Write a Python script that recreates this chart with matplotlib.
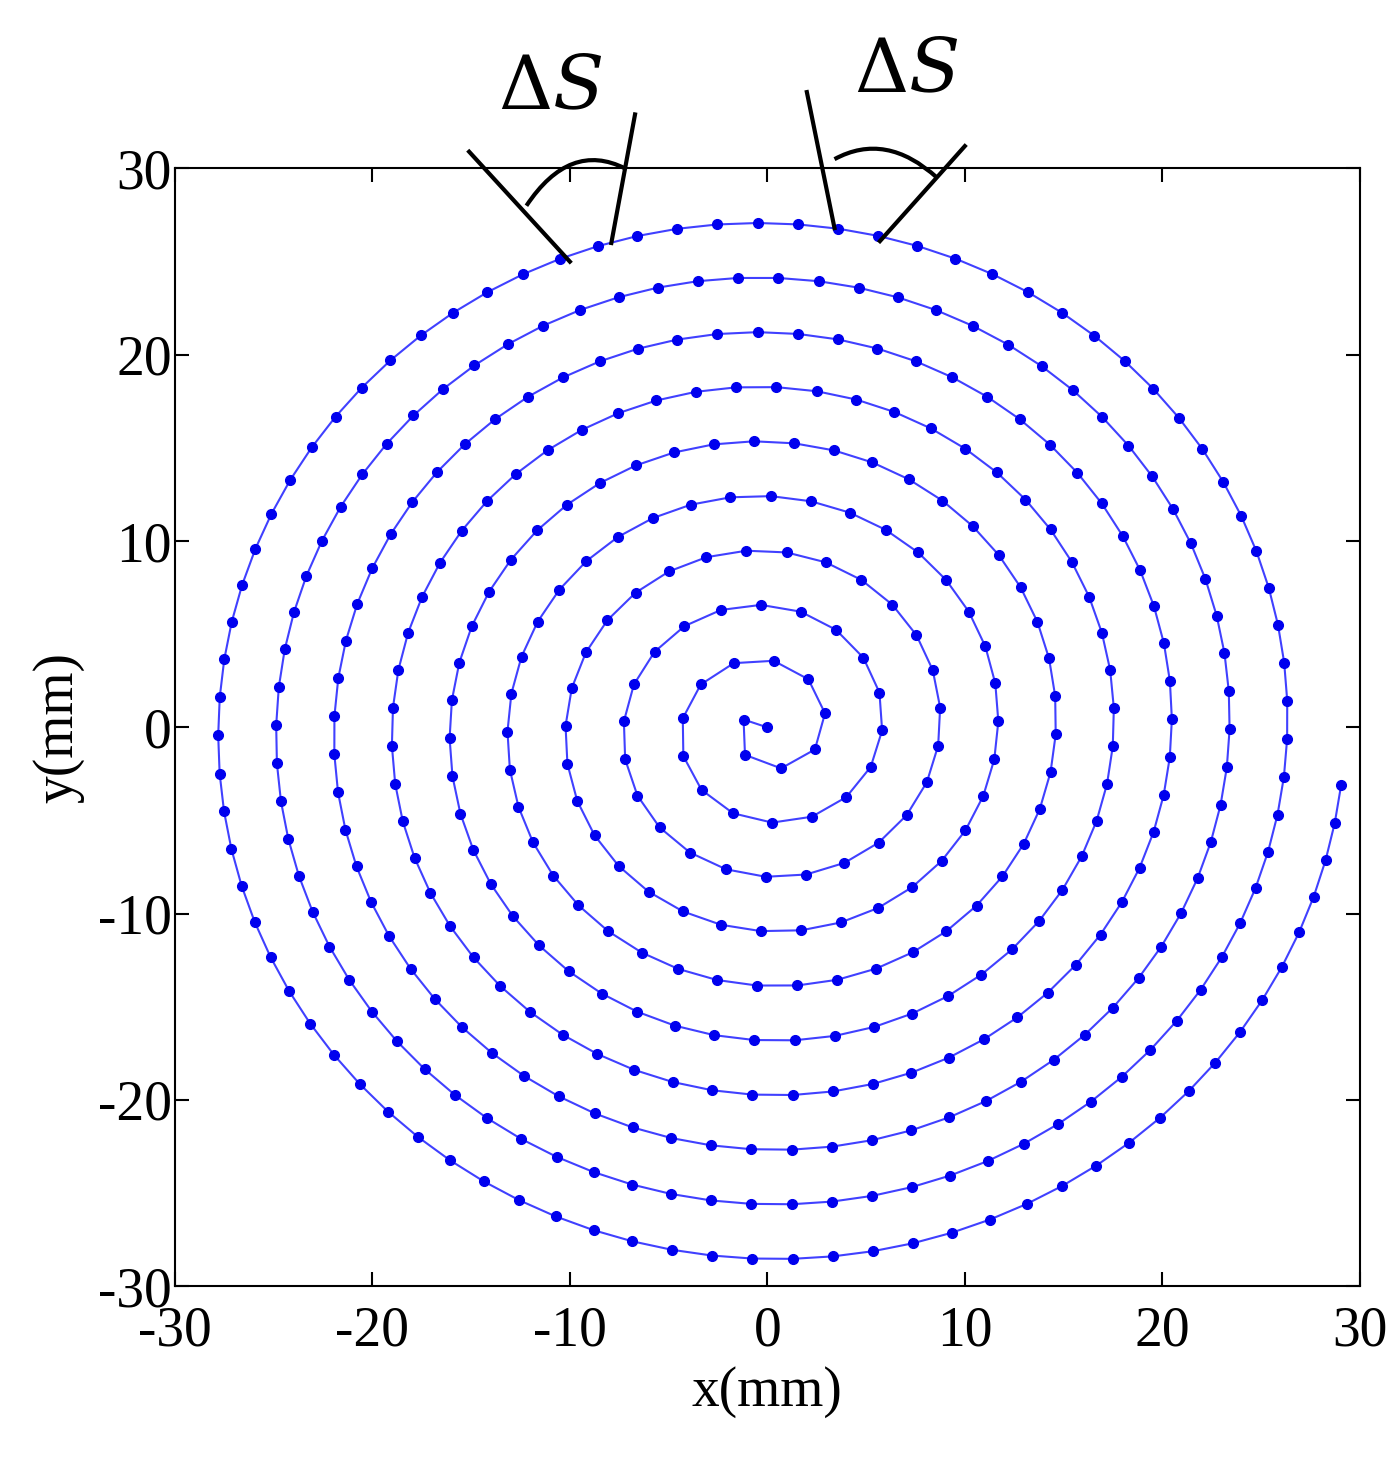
import numpy as np
import matplotlib.pyplot as plt
from matplotlib.path import Path
from matplotlib.patches import PathPatch

# spiral (mm)
ring_gap = 2.93        # distance between neighbouring turns
r_start = 0.7          # radius offset at the centre
n_turns = 9.74         # number of turns drawn
point_step = 2.05      # arc length between sampled points (Delta S)

# annotation lines (mm, drawn outside the axes)
left_lines = [[(-10.0, 25.0), (-15.1, 30.9)], [(-7.9, 26.0), (-6.7, 32.9)]]
left_arc = [(-12.2, 28.0), (-10.0, 31.5), (-7.2, 30.0)]
right_lines = [[(3.4, 26.8), (2.0, 34.1)], [(5.7, 26.1), (10.0, 31.2)]]
right_arc = [(3.4, 30.5), (6.0, 32.0), (8.6, 29.5)]
label_pos = [(-11.0, 32.3), (7.0, 33.2)]

# sample spiral at equal arc length
phi = np.linspace(0, n_turns * 2 * np.pi, 20000)
r = r_start + ring_gap * phi / (2 * np.pi)
r[0] = 0
ang = phi + np.pi / 2
x = r * np.cos(ang)
y = r * np.sin(ang)
s = np.concatenate([[0], np.cumsum(np.hypot(np.diff(x), np.diff(y)))])
si = np.arange(0, s[-1], point_step)
px = np.interp(si, s, x)
py = np.interp(si, s, y)

plt.rcParams['font.family'] = ['Liberation Serif', 'DejaVu Serif']
plt.rcParams['mathtext.fontset'] = 'dejavuserif'
plt.rcParams['axes.unicode_minus'] = False
fig = plt.figure(figsize=(13.99, 14.65), dpi=100)
ax = fig.add_axes([0.125, 0.122, 0.847, 0.763])
ax.plot(px, py, color='#4040ff', lw=1.5)
ax.plot(px, py, 'o', color='#0000ee', ms=7)
ax.set_xlim(-30, 30)
ax.set_ylim(-30, 30)
ax.set_xticks(range(-30, 31, 10))
ax.set_yticks(range(-30, 31, 10))
ax.tick_params(direction='in', top=True, right=True, labelsize=40, length=10, width=1.5)
ax.tick_params(axis='y', pad=2)
ax.tick_params(axis='x', pad=14)
for sp in ax.spines.values():
    sp.set_linewidth(1.5)
ax.set_xlabel('x(mm)', fontsize=40, labelpad=6)
ax.set_ylabel('y(mm)', fontsize=40, labelpad=10)

for lines, arc in [(left_lines, left_arc), (right_lines, right_arc)]:
    for (a, b) in lines:
        ax.plot([a[0], b[0]], [a[1], b[1]], color='black', lw=3, clip_on=False)
    path = Path(arc, [Path.MOVETO, Path.CURVE3, Path.CURVE3])
    ax.add_patch(PathPatch(path, fill=False, color='black', lw=3, clip_on=False))
for (lx, ly) in label_pos:
    ax.text(lx, ly, r'$\Delta S$', fontsize=54, ha='center', va='bottom')

fig.savefig('out.png', dpi=100)
